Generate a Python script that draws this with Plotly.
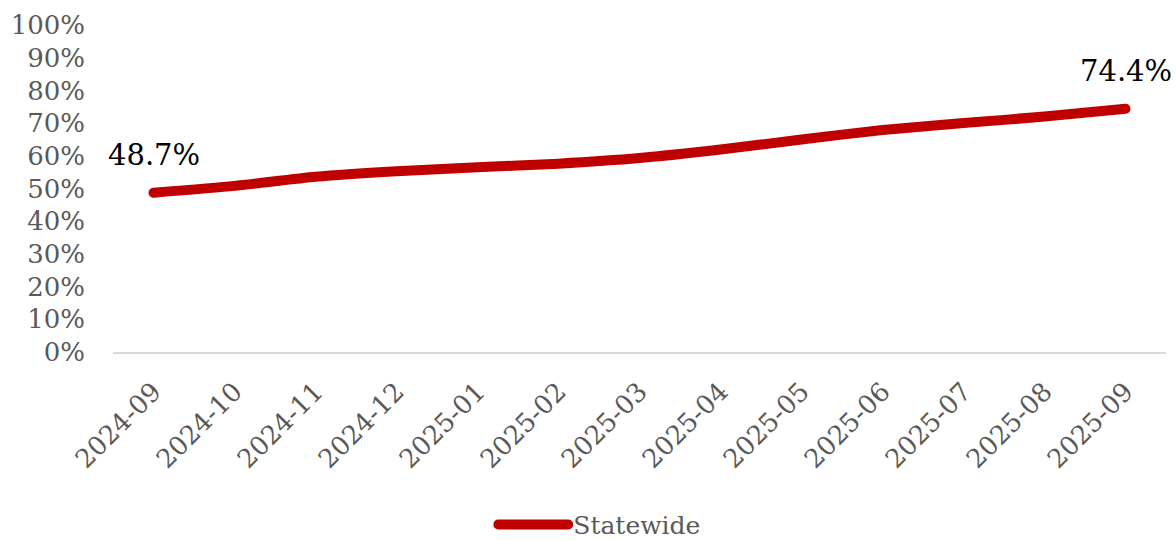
import plotly.graph_objects as go

months = ["2024-09", "2024-10", "2024-11", "2024-12", "2025-01", "2025-02", "2025-03",
          "2025-04", "2025-05", "2025-06", "2025-07", "2025-08", "2025-09"]
statewide = [48.7, 50.8, 53.6, 55.3, 56.5, 57.6, 59.3, 61.9, 65.0, 67.9, 70.0, 72.0, 74.4]
y_ticks = list(range(0, 101, 10))
y_tick_labels = [f"{v}%" for v in y_ticks]

FONT = "DejaVu Serif"
GREY = "#595959"
RED = "#C00000"

fig = go.Figure()
fig.add_trace(go.Scatter(
    x=months, y=statewide, mode="lines", name="Statewide",
    line=dict(color=RED, width=10, shape="spline", smoothing=0.6),
))

fig.add_annotation(x=months[0], y=statewide[0], text=f"{statewide[0]:.1f}%",
                   showarrow=False, yshift=38, font=dict(family=FONT, size=29, color="black"))
fig.add_annotation(x=months[-1], y=statewide[-1], text=f"{statewide[-1]:.1f}%",
                   showarrow=False, yshift=38, font=dict(family=FONT, size=29, color="black"))

fig.update_layout(
    width=1176, height=541,
    margin=dict(l=113, r=10, t=21, b=189),
    paper_bgcolor="white", plot_bgcolor="white",
    font=dict(family=FONT, size=24, color=GREY),
    showlegend=True,
    legend=dict(orientation="h", xref="container", yref="container",
                x=0.51, xanchor="center", y=0.03, yanchor="middle",
                font=dict(family=FONT, size=25, color=GREY), itemwidth=70),
    xaxis=dict(type="category", range=[-0.5, 12.5], showgrid=False, showline=True,
               linecolor="#D9D9D9", linewidth=2, tickangle=-45, ticks="",
               tickfont=dict(family=FONT, size=26, color=GREY), zeroline=False,
               ticklabelstandoff=12),
    yaxis=dict(range=[0, 100], tickvals=y_ticks, ticktext=y_tick_labels,
               showgrid=False, zeroline=False, showline=False, ticks="",
               tickfont=dict(family=FONT, size=26, color=GREY), ticklabelstandoff=27),
)

post = """
document.body.style.margin='0';
document.querySelectorAll('.scatterlayer .js-line, .legendlines path').forEach(function(p){
  p.style.strokeLinecap='round';
});
"""
fig.write_html("out.html", config={"displayModeBar": False}, post_script=post)
